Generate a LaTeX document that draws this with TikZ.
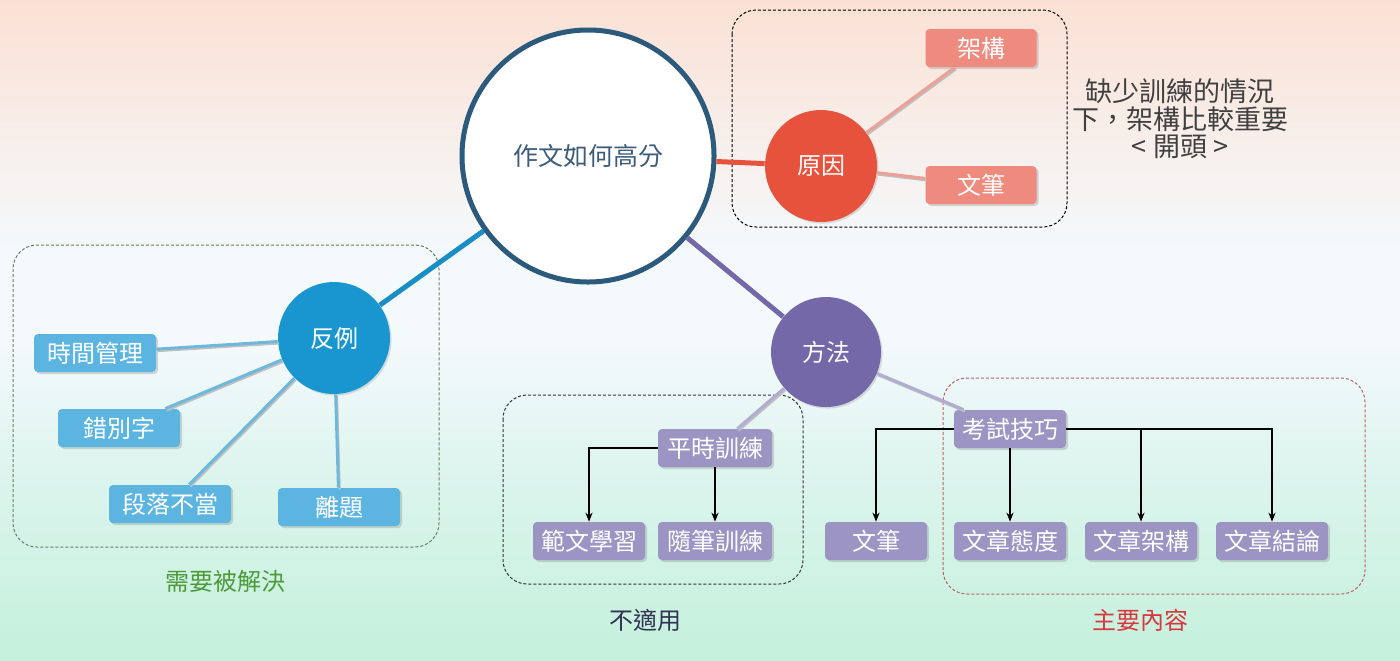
\documentclass[tikz,border=0pt]{standalone}
\usepackage{fontspec}
\setmainfont{Noto Sans CJK TC}
\usetikzlibrary{shadows,arrows.meta}
\definecolor{peach}{HTML}{FBE1D4}
\definecolor{midw}{HTML}{F4F9FC}
\definecolor{lmint}{HTML}{DAF4EC}
\definecolor{mint}{HTML}{C4F1DC}
\definecolor{mainborder}{HTML}{2C5A7C}
\definecolor{maintext}{HTML}{3D5C7A}
\definecolor{redhub}{HTML}{E7523C}
\definecolor{redbox}{HTML}{EF8B7E}
\definecolor{redtwig}{HTML}{EDA095}
\definecolor{bluehub}{HTML}{1995CF}
\definecolor{bluebox}{HTML}{5CB5E1}
\definecolor{bluetwig}{HTML}{6DB8DC}
\definecolor{purphub}{HTML}{7468A8}
\definecolor{purpbox}{HTML}{9C95C4}
\definecolor{purptwig}{HTML}{B3ACD2}
\definecolor{greenlab}{HTML}{4E9A38}
\definecolor{redlab}{HTML}{D9363E}
\definecolor{navylab}{HTML}{333355}
\definecolor{greenframe}{HTML}{6B7F60}
\definecolor{redframe}{HTML}{C06060}
\pgfdeclareverticalshading{bgshade}{100bp}{color(0bp)=(mint); color(25bp)=(mint); color(38bp)=(lmint); color(49bp)=(midw); color(56bp)=(midw); color(75bp)=(peach); color(100bp)=(peach)}
\begin{document}
\begin{tikzpicture}[x=0.5pt,y=-0.5pt,
  lbl/.style={font=\fontsize{12}{14}\selectfont},
  hub/.style={circle, minimum size=56pt, inner sep=0pt, text=white, lbl,
    drop shadow={shadow xshift=0.8pt, shadow yshift=-0.8pt, opacity=0.25}},
  leaf/.style={rounded corners=2pt, minimum height=19pt, minimum width=56pt, inner sep=0pt, text=white, lbl,
    drop shadow={shadow xshift=1pt, shadow yshift=-1pt, opacity=0.3}},
  trunk/.style={line width=2.5pt},
  twig/.style={line width=1.5pt, preaction={draw=black!25, line width=1.2pt, transform canvas={shift={(0.6pt,-0.9pt)}}}},
  arr/.style={draw=black, line width=0.6pt, -{Stealth[length=4.5pt,width=3.6pt]}},
  frame/.style={line width=0.5pt, dash pattern=on 1.5pt off 1pt, rounded corners=12pt},
  note/.style={font=\fontsize{12}{14}\selectfont}
]
\shade[shading=bgshade] (0,0) rectangle (1400,660);
\useasboundingbox (0,0) rectangle (1400,660);

% frames
\draw[frame, black] (732,10) rectangle (1067,227);
\draw[frame, greenframe] (13,245) rectangle (439,547);
\draw[frame, black!80] (503,395) rectangle (803,584);
\draw[frame, redframe] (943,378) rectangle (1365,594);

% hubs
\node[circle, draw=mainborder, line width=2.5pt, fill=white, minimum size=126pt, inner sep=0pt,
  text=maintext, font=\fontsize{12.5}{15}\selectfont,
  drop shadow={shadow xshift=0.8pt, shadow yshift=-0.8pt, opacity=0.25}] (main) at (588,156) {作文如何高分};
\node[hub, fill=redhub] (yy) at (821,166) {原因};
\node[hub, fill=bluehub] (fl) at (334,338) {反例};
\node[hub, fill=purphub, minimum size=55pt] (ff) at (826,352) {方法};

% leaves red
\node[leaf, fill=redbox, minimum width=55.5pt] (jg) at (981,48) {架構};
\node[leaf, fill=redbox, minimum width=55.5pt] (wb1) at (981,185) {文筆};
% leaves blue
\node[leaf, fill=bluebox, minimum width=61pt] (t1) at (95,353) {時間管理};
\node[leaf, fill=bluebox, minimum width=61pt] (t2) at (119,428) {錯別字};
\node[leaf, fill=bluebox, minimum width=61pt] (t3) at (170,504) {段落不當};
\node[leaf, fill=bluebox, minimum width=61pt] (t4) at (339,507) {離題};
% leaves purple
\node[leaf, fill=purpbox, minimum width=57pt] (ps) at (715,448) {平時訓練};
\node[leaf, fill=purpbox] (fw) at (589,541) {範文學習};
\node[leaf, fill=purpbox, minimum width=57pt] (sb) at (715,541) {隨筆訓練};
\node[leaf, fill=purpbox] (ks) at (1010,429) {考試技巧};
\node[leaf, fill=purpbox, minimum width=51pt] (wb2) at (876,541) {文筆};
\node[leaf, fill=purpbox] (c1) at (1010,541) {文章態度};
\node[leaf, fill=purpbox] (c2) at (1141,541) {文章架構};
\node[leaf, fill=purpbox] (c3) at (1272,541) {文章結論};

% trunks
\draw[trunk, redhub] (main) -- (yy);
\draw[trunk, bluehub!95!black] (main) -- (fl);
\draw[trunk, purphub] (main) -- (ff);

% twigs
\draw[twig, redtwig] (yy) -- (jg);
\draw[twig, redtwig] (yy) -- (wb1);
\draw[twig, bluetwig] (fl) -- (t1);
\draw[twig, bluetwig] (fl) -- (t2);
\draw[twig, bluetwig] (fl) -- (t3);
\draw[twig, bluetwig] (fl) -- (t4);
\draw[twig, purptwig] (ff) -- (ps);
\draw[twig, purptwig] (ff) -- (ks);

% arrows
\draw[arr] (ps.west) -| (fw.north);
\draw[arr] (ps.south) -- (sb.north);
\draw[arr] (ks.west) -| (wb2.north);
\draw[arr] (ks.south) -- (c1.north);
\draw[arr] (ks.east) -| (c2.north);
\draw[arr] (ks.east) -| (c3.north);

% notes
\node[note, text=greenlab] (n1) at (225,581) {需要被解決};
\node[note, text=navylab] (n2) at (645,620) {不適用};
\node[note, text=redlab] (n3) at (1140,620) {主要內容};
\node[align=center, text=black!75, font=\fontsize{13.5}{13.8}\selectfont] (n4) at (1180,119) {缺少訓練的情況\\下，架構比較重要\\< 開頭 >};
\end{tikzpicture}
\end{document}
